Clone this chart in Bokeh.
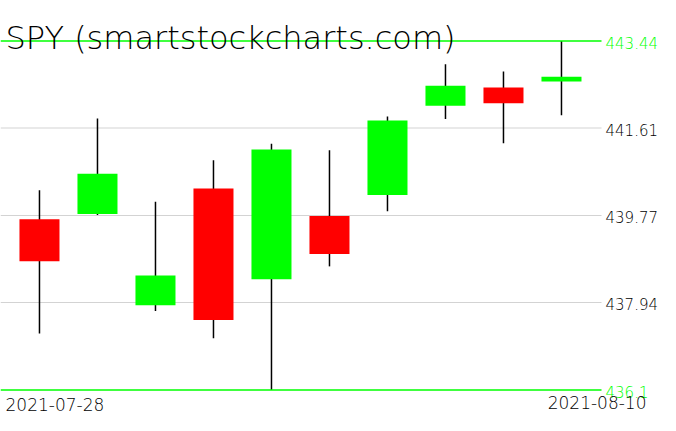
from bokeh.plotting import figure
from bokeh.models import Range1d, ColumnDataSource
from bokeh.core.properties import value
from bokeh.embed import file_html
from bokeh.resources import INLINE

title_text = "SPY (smartstockcharts.com)"
dates = ["2021-07-28", "2021-07-29", "2021-07-30", "2021-08-02", "2021-08-03",
         "2021-08-04", "2021-08-05", "2021-08-06", "2021-08-09", "2021-08-10"]
opens = [439.69, 439.80, 437.88, 440.34, 438.43, 439.76, 440.20, 442.08, 442.46, 442.59]
closes = [438.81, 440.65, 438.51, 437.57, 441.16, 438.96, 441.77, 442.50, 442.13, 442.69]
highs = [440.30, 441.81, 440.06, 440.93, 441.28, 441.14, 441.85, 442.95, 442.80, 443.44]
lows = [437.29, 439.78, 437.76, 437.19, 436.10, 438.70, 439.86, 441.80, 441.29, 441.88]
tick_values = [436.10, 437.94, 439.77, 441.61, 443.44]
tick_labels = ["436.1", "437.94", "439.77", "441.61", "443.44"]

GREEN = "#00ff00"
RED = "#ff0000"
GRID = "#d3d3d3"
FONT = value("'DejaVu Sans Light', 'DejaVu Sans'")

# canvas and plotting-area geometry (pixels)
W, H = 660, 415
A_LEFT, A_RIGHT, A_TOP, A_BOTTOM = 0.0, 601.0, 40.5, 389.5

idx = list(range(len(dates)))
colors = [GREEN if c >= o else RED for o, c in zip(opens, closes)]
src = ColumnDataSource(dict(x=idx, open=opens, close=closes, high=highs, low=lows, color=colors))

lo = min(lows)
hi = max(highs)
x_lo, x_hi = -0.672, 9.69

sx = (x_hi - x_lo) / (A_RIGHT - A_LEFT)
sy = (hi - lo) / (A_BOTTOM - A_TOP)
x_range = Range1d(x_lo - A_LEFT * sx, x_lo + (W - A_LEFT) * sx)
y_range = Range1d(lo - (H - A_BOTTOM) * sy, hi + A_TOP * sy)

p = figure(width=W, height=H, output_backend="svg", toolbar_location=None,
           x_range=x_range, y_range=y_range,
           x_axis_location=None, y_axis_location=None, min_border=0)
p.outline_line_color = None
p.background_fill_color = "white"
p.border_fill_color = "white"
p.xgrid.visible = False
p.ygrid.visible = False

# grid lines (inner ticks)
inner = tick_values[1:-1]
p.segment(x0=[x_lo] * len(inner), x1=[x_hi] * len(inner), y0=inner, y1=inner,
          line_color=GRID, line_width=1)

# candles
p.segment(x0="x", y0="high", x1="x", y1="low", source=src, line_color="black", line_width=1.5)
p.vbar(x="x", width=0.69, top="open", bottom="close", fill_color="color",
       line_color=None, source=src)

# high / low lines
p.segment(x0=[x_lo, x_lo], x1=[x_hi, x_hi], y0=[hi, lo], y1=[hi, lo],
          line_color=GREEN, line_width=1.5)

# price labels
lab_colors = [GREEN if (v == lo or v == hi) else "black" for v in tick_values]
lab_src = ColumnDataSource(dict(x=[x_hi] * len(tick_values), y=tick_values,
                                text=tick_labels, color=lab_colors))
p.text(x="x", y="y", text="text", source=lab_src, x_offset=4, y_offset=1.5,
       text_color="color", text_font=FONT, text_font_size="15px",
       text_baseline="alphabetic", text_align="left")

# title
p.text(x=[x_lo], y=[hi], text=[title_text], x_offset=5, y_offset=-3,
       text_font=FONT, text_font_size="32px",
       text_baseline="alphabetic", text_align="left", text_color="black")

# date labels
p.text(x=[x_lo], y=[lo], text=[dates[0]], x_offset=5, y_offset=14.5,
       text_font=FONT, text_font_size="17px",
       text_baseline="alphabetic", text_align="left", text_color="black")
p.text(x=[x_hi], y=[lo], text=[dates[-1]], x_offset=45, y_offset=12,
       text_font=FONT, text_font_size="17px",
       text_baseline="alphabetic", text_align="right", text_color="black")

open("out.html", "w").write(file_html(p, INLINE))
